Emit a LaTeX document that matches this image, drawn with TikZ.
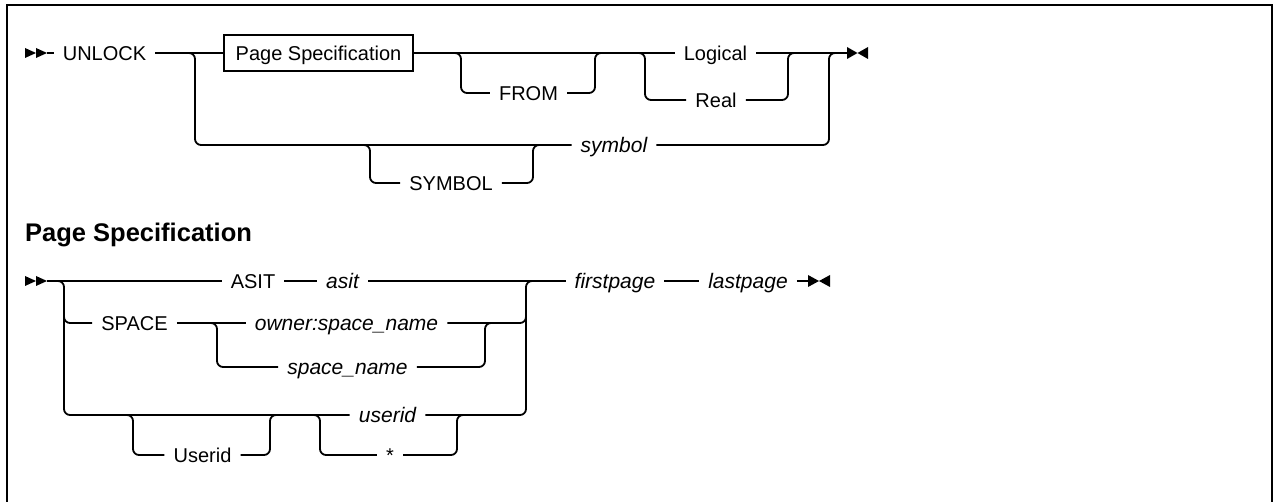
\documentclass[tikz,border=0pt]{standalone}
\usepackage{fontspec}
\setmainfont{Liberation Sans}
\newcommand\kwf{\fontsize{20}{24}\selectfont}
\newcommand\vrf{\fontsize{21}{24}\selectfont\itshape}
\newcommand\hdf{\fontsize{25.5}{30}\selectfont\bfseries}
\begin{document}
\begin{tikzpicture}[x=1pt,y=-1pt,
  rr/.style={line width=1.8pt, rounded corners=6pt},
  kw/.style={font=\kwf, inner xsep=9pt, inner ysep=0pt, text height=14.3pt, text depth=0pt},
  vr/.style={font=\vrf, inner xsep=9pt, inner ysep=0pt, text height=15pt, text depth=0pt},
  boxed/.style={draw, line width=1.8pt, font=\kwf, minimum width=189pt, minimum height=36pt, inner sep=0pt, text height=14.3pt, text depth=0pt}]
\useasboundingbox (0,0) rectangle (1274,502);
\draw[line width=2pt] (7,504) -- (7,5) -- (1272,5) -- (1272,504);

% ---------- row 1 ----------
\fill (25,48) -- (36,53) -- (25,58) -- cycle;
\fill (36,48) -- (47,53) -- (36,58) -- cycle;
\coordinate (s1) at (47,53);
\node[kw] (unlock) at (104.5,53) {UNLOCK};
\node[boxed] (ps) at (318.5,53) {Page Specification};
\node[kw] (from) at (528.5,93) {FROM};
\node[kw] (logical) at (715.5,53) {Logical};
\node[kw] (real) at (716,100) {Real};
\node[kw] (SYM) at (451,183) {SYMBOL};
\node[vr] (symv) at (614,145) {symbol};
\coordinate (j1) at (195,53);
\coordinate (j2) at (461,53);
\coordinate (j3) at (595,53);
\coordinate (j4) at (645,53);
\coordinate (j5) at (788,53);
\coordinate (j6) at (829,53);
\coordinate (j7) at (370,145);
\coordinate (j8) at (533,145);
\coordinate (e1) at (847,53);
\fill (847,47) -- (857.5,53) -- (847,59) -- cycle;
\fill (868,47) -- (857.5,53) -- (868,59) -- cycle;

\draw[rr] (s1) -- (unlock.west);
\draw[rr] (unlock.east) -- (ps.west);
\draw[rr] (ps.east) -- (logical.west);
\draw[rr] (logical.east) -- (e1);
\draw[rr] ([xshift=-6pt]j1) -- (j1) |- (symv.west);
\draw[rr] (symv.east) -| (j6) -- ([xshift=6pt]j6);
\draw[rr] ([xshift=-6pt]j2) -- (j2) |- (from.west);
\draw[rr] (from.east) -| (j3) -- ([xshift=6pt]j3);
\draw[rr] ([xshift=-6pt]j4) -- (j4) |- (real.west);
\draw[rr] (real.east) -| (j5) -- ([xshift=6pt]j5);
\draw[rr] ([xshift=-6pt]j7) -- (j7) |- (SYM.west);
\draw[rr] (SYM.east) -| (j8) -- ([xshift=6pt]j8);

% ---------- heading ----------
\node[font=\hdf, anchor=base west, inner sep=0pt] (head) at (25,242) {Page Specification};

% ---------- row 3 ----------
\fill (25,276) -- (36,281) -- (25,286) -- cycle;
\fill (36,276) -- (47,281) -- (36,286) -- cycle;
\coordinate (s2) at (47,281);
\node[kw] (ASIT) at (253,281) {ASIT};
\node[vr] (asit) at (342.5,281) {asit};
\node[vr] (first) at (615,281) {firstpage};
\node[vr] (last) at (748,281) {lastpage};
\coordinate (e2) at (808,281);
\fill (808,275) -- (819,281) -- (808,287) -- cycle;
\fill (830,275) -- (819,281) -- (830,287) -- cycle;
\node[kw] (SPACE) at (134.5,323) {SPACE};
\node[vr] (owner) at (346.5,323) {owner:space\_name};
\node[vr] (spn) at (347.5,367) {space\_name};
\node[kw] (Userid) at (202.5,455) {Userid};
\node[vr] (userid) at (387.5,415) {userid};
\node[kw] (star) at (390,455) {*};
\coordinate (k1) at (64,281);
\coordinate (sp1) at (217,323);
\coordinate (sp2) at (485,323);
\coordinate (u1) at (133,415);
\coordinate (u2) at (270,415);
\coordinate (u3) at (320,415);
\coordinate (u4) at (457,415);
\coordinate (m1) at (526,281);

\draw[rr] (s2) -- (ASIT.west);
\draw[rr] (ASIT.east) -- (asit.west);
\draw[rr] (asit.east) -- (first.west);
\draw[rr] (first.east) -- (last.west);
\draw[rr] (last.east) -- (e2);
\draw[rr] ([xshift=-6pt]k1) -- (k1) |- (userid.west);
\draw[rr] ([yshift=-20pt]k1) |- (SPACE.west);
\draw[rr] (SPACE.east) -- (owner.west);
\draw[rr] ([xshift=-6pt]sp1) -- (sp1) |- (spn.west);
\draw[rr] (spn.east) -| (sp2) -- ([xshift=6pt]sp2);
\draw[rr] (owner.east) -| ([yshift=-20pt]m1);
\draw[rr] (userid.east) -| (m1) -- ([xshift=6pt]m1);
\draw[rr] ([xshift=-6pt]u1) -- (u1) |- (Userid.west);
\draw[rr] (Userid.east) -| (u2) -- ([xshift=6pt]u2);
\draw[rr] ([xshift=-6pt]u3) -- (u3) |- (star.west);
\draw[rr] (star.east) -| (u4) -- ([xshift=6pt]u4);
\end{tikzpicture}
\end{document}
